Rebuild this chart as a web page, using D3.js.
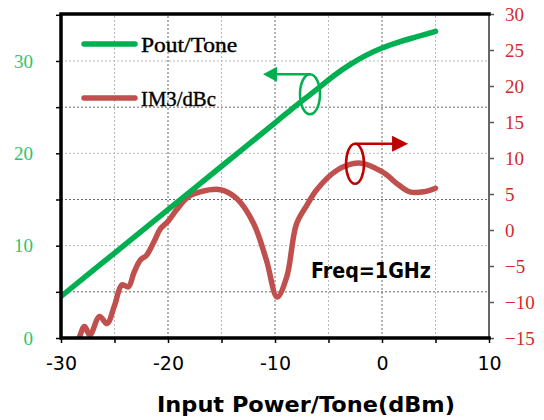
<!DOCTYPE html>
<html>
<head>
<meta charset="utf-8">
<script src="https://cdn.jsdelivr.net/npm/d3@7"></script>
<style>
  body { margin: 0; background: #fff; }
  svg { display: block; }
</style>
</head>
<body>
<script>
'use strict';

// input power per tone (dBm) and output power per tone (dBm)
var poutX = [-30, -25, -20, -15, -10, -8, -6, -4.5, -3, -1.5, 0, 1.7, 3.2, 5];
var poutY = [4.5, 9.2, 13.9, 18.6, 23.3, 25.2, 27.0, 28.4, 29.6, 30.6, 31.4, 32.1, 32.6, 33.2];

// IM3 (dBc), right axis
var im3X = [-30, -29, -28.4, -27.8, -27.3, -26.4, -25.7, -25, -24.3, -23.7, -23.2, -22.6, -22, -21.3,
            -20.7, -20, -19.2, -18.1, -17, -15.1, -13.6, -12, -10.8, -9.8, -8.9, -8, -7, -6.1,
            -4.2, -2.2, 0, 1.6, 2.6, 3.9, 5];
var im3Y = [-19, -17, -15.3, -13.4, -14.6, -12.0, -13.0, -10.5, -7.6, -7.9, -6.0, -4.2, -3.5, -1.6,
            0.2, 1.2, 2.8, 4.6, 5.3, 5.6, 4.4, 0.9, -4.2, -9.3, -6.5, 0.8, 3.5, 5.6,
            8.3, 9.3, 8.1, 6.2, 5.3, 5.3, 5.8];

var xTicks = [-30, -25, -20, -15, -10, -5, 0, 5, 10];
var leftTicks = [0, 5, 10, 15, 20, 25, 30, 35];
var rightTicks = [-15, -10, -5, 0, 5, 10, 15, 20, 25, 30];
var legendNames = ["Pout/Tone", "IM3/dBc"];

(function() {
    var width = 544,
        height = 420;

    var green = "#00b050",
        red = "#c0504d",
        labelGreen = "#2fc46c",
        labelRed = "#d42a2a",
        arrowRed = "#c00000";

    var serif = "'Liberation Serif', 'DejaVu Serif', serif",
        sans = "'DejaVu Sans', Verdana, sans-serif";

    var x = d3.scaleLinear().domain([-30, 10]).range([61, 489]);
    var yL = d3.scaleLinear().domain([0, 35]).range([338, 14.8]);
    var yR = d3.scaleLinear().domain([-15, 30]).range([338, 14]);

    var svg = d3.select("body").append("svg")
        .attr("width", width)
        .attr("height", height);

    svg.append("clipPath").attr("id", "plot")
        .append("rect")
        .attr("x", x(-30)).attr("y", yR(30))
        .attr("width", x(10) - x(-30)).attr("height", yR(-15) - yR(30));

    // grid
    var grid = svg.append("g");
    grid.selectAll(".vg")
        .data(xTicks.filter(d => d > -30 && d < 10))
        .enter().append("line")
        .attr("x1", d => x(d)).attr("x2", d => x(d))
        .attr("y1", yL(0)).attr("y2", yR(30))
        .attr("stroke", d => d % 10 === 0 ? "#666" : "#b8b8b8")
        .attr("stroke-width", 1)
        .attr("stroke-dasharray", "2,2");
    grid.selectAll(".hg")
        .data(leftTicks.filter(d => d > 0 && d < 35))
        .enter().append("line")
        .attr("x1", x(-30)).attr("x2", x(10))
        .attr("y1", d => yL(d)).attr("y2", d => yL(d))
        .attr("stroke", d => d % 10 === 0 ? "#b8b8b8" : "#666")
        .attr("stroke-width", 1)
        .attr("stroke-dasharray", "2,2");

    // series
    var poutLine = d3.line()
        .x((d, i) => x(poutX[i]))
        .y(d => yL(d))
        .curve(d3.curveCatmullRom.alpha(0.5));
    var im3Line = d3.line()
        .x((d, i) => x(im3X[i]))
        .y(d => yR(d))
        .curve(d3.curveCatmullRom.alpha(0.5));

    svg.append("path")
        .attr("d", im3Line(im3Y))
        .attr("clip-path", "url(#plot)")
        .attr("fill", "none")
        .attr("stroke", red)
        .attr("stroke-width", 5.5)
        .attr("stroke-linecap", "round")
        .attr("stroke-linejoin", "round");

    svg.append("path")
        .attr("d", poutLine(poutY))
        .attr("clip-path", "url(#plot)")
        .attr("fill", "none")
        .attr("stroke", green)
        .attr("stroke-width", 5.5)
        .attr("stroke-linecap", "round");

    // axes
    var left = svg.append("g")
        .attr("transform", "translate(" + x(-30) + ",0)")
        .call(d3.axisLeft(yL).tickValues(leftTicks).tickSize(5).tickPadding(23)
            .tickFormat(d => d % 10 === 0 ? d : ""));
    left.select(".domain").remove();
    left.selectAll(".tick line").attr("stroke", "#000").attr("stroke-width", 1.5);
    left.selectAll("text").attr("fill", labelGreen)
        .style("font-family", serif).style("font-size", "19px");

    var right = svg.append("g")
        .attr("transform", "translate(" + x(10) + ",0)")
        .call(d3.axisRight(yR).tickValues(rightTicks).tickSize(5).tickPadding(11));
    right.select(".domain").remove();
    right.selectAll(".tick line").attr("stroke", "#555").attr("stroke-width", 1.5);
    right.selectAll("text").attr("fill", labelRed)
        .style("font-family", serif).style("font-size", "19px");

    var bottom = svg.append("g")
        .attr("transform", "translate(0," + yL(0) + ")")
        .call(d3.axisBottom(x).tickValues(xTicks).tickSize(5).tickPadding(14)
            .tickFormat(d => d % 10 === 0 ? d3.format("d")(d).replace("\u2212", "-") : ""));
    bottom.select(".domain").remove();
    bottom.selectAll(".tick line").attr("stroke", "#000").attr("stroke-width", 1.5);
    bottom.selectAll("text").attr("fill", "#000")
        .style("font-family", sans).style("font-size", "19px");

    // frame
    svg.append("line")
        .attr("x1", x(10)).attr("x2", x(10))
        .attr("y1", yR(30)).attr("y2", yR(-15))
        .attr("stroke", "#666").attr("stroke-width", 2);
    svg.append("path")
        .attr("d", "M" + x(10) + "," + yR(30) + "H" + x(-30) + "V" + yL(0) + "H" + x(10))
        .attr("fill", "none")
        .attr("stroke", "#000")
        .attr("stroke-width", 3.5)
        .attr("stroke-linecap", "square");

    // legend
    var legend = svg.append("g");
    var legendColors = [green, red];
    legendNames.forEach(function(name, i) {
        var ly = 44 + i * 54;
        legend.append("line")
            .attr("x1", 84).attr("x2", 135)
            .attr("y1", ly).attr("y2", ly)
            .attr("stroke", legendColors[i])
            .attr("stroke-width", 5.5)
            .attr("stroke-linecap", "round");
        legend.append("text")
            .attr("x", 141).attr("y", ly + 8)
            .attr("textLength", name.length * 10.7)
            .attr("lengthAdjust", "spacingAndGlyphs")
            .style("font-family", serif)
            .style("font-size", "21px")
            .attr("fill", "#000")
            .attr("stroke", "#000")
            .attr("stroke-width", 0.4)
            .text(name);
    });

    // annotation: Pout -> left axis
    var gx = x(-6.73), gy = yL(26.4);
    var ann = svg.append("g");
    ann.append("ellipse")
        .attr("cx", gx).attr("cy", gy).attr("rx", 10).attr("ry", 20)
        .attr("fill", "none").attr("stroke", green).attr("stroke-width", 2.5);
    ann.append("line")
        .attr("x1", gx + 1).attr("x2", gx - 34)
        .attr("y1", gy - 20).attr("y2", gy - 20)
        .attr("stroke", green).attr("stroke-width", 2.5);
    ann.append("path")
        .attr("d", "M" + (gx - 47) + "," + (gy - 20) + "l14,-7.5v15z")
        .attr("fill", green);

    // annotation: IM3 -> right axis
    var rx = x(-2.52), ry = yR(9.2);
    ann.append("ellipse")
        .attr("cx", rx).attr("cy", ry).attr("rx", 9).attr("ry", 20)
        .attr("fill", "none").attr("stroke", arrowRed).attr("stroke-width", 2.5);
    ann.append("line")
        .attr("x1", rx).attr("x2", rx + 38)
        .attr("y1", ry - 20).attr("y2", ry - 20)
        .attr("stroke", arrowRed).attr("stroke-width", 2.5);
    ann.append("path")
        .attr("d", "M" + (rx + 53) + "," + (ry - 20) + "l-16,-8v16z")
        .attr("fill", arrowRed);

    svg.append("text")
        .attr("x", x(-1.03)).attr("y", 278)
        .attr("text-anchor", "middle")
        .attr("textLength", 120)
        .attr("lengthAdjust", "spacingAndGlyphs")
        .style("font-family", sans)
        .style("font-size", "22px")
        .style("font-weight", "bold")
        .text("Freq=1GHz");

    // x title
    svg.append("text")
        .attr("x", 306).attr("y", 412)
        .attr("text-anchor", "middle")
        .attr("textLength", 298)
        .attr("lengthAdjust", "spacingAndGlyphs")
        .style("font-family", sans)
        .style("font-size", "21px")
        .style("font-weight", "bold")
        .text("Input Power/Tone(dBm)");
})();
</script>
</body>
</html>
